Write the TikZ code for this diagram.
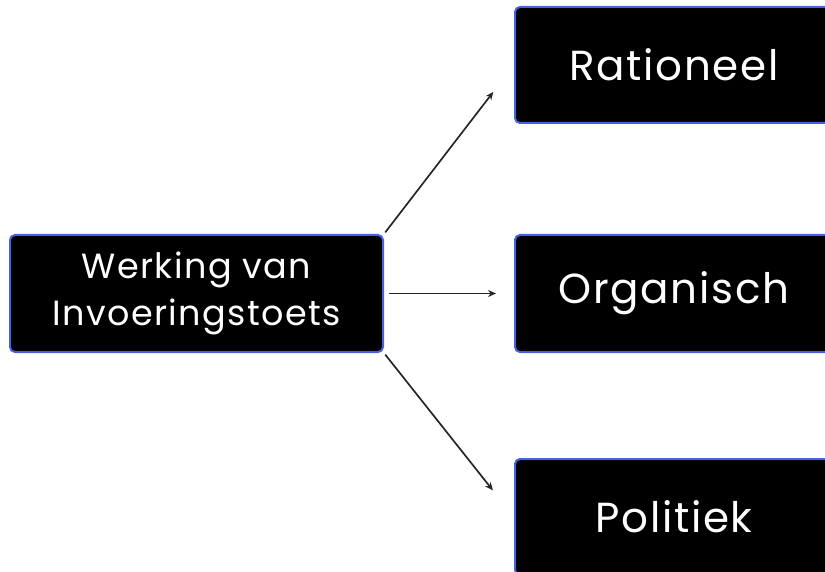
\documentclass[tikz,border=0pt]{standalone}
\usepackage{fontspec}
\setmainfont{Poppins}[LetterSpace=4]
\usetikzlibrary{calc,arrows.meta}
\definecolor{boxBlue}{RGB}{72,98,222}

\begin{document}
\begin{tikzpicture}[x=1pt,y=-1pt,
  blackbox/.style={rounded corners=5pt,draw=boxBlue,fill=black,line width=2pt,text=white,align=center,inner sep=0pt},
  link/.style={draw=black!85,line width=1.7pt,-{Stealth[length=8pt,width=7pt]}}]
\useasboundingbox (0,0) rectangle (825,572);
\node[blackbox,minimum width=373pt,minimum height=117pt,font=\fontsize{35}{47}\selectfont] (werking) at (196.5,293.5) {Werking van\\Invoeringstoets};
\node[blackbox,minimum width=318pt,minimum height=116pt,font=\fontsize{42}{48}\selectfont] (ratio) at (674,65) {Rationeel};
\node[blackbox,minimum width=318pt,minimum height=117pt,font=\fontsize{42}{48}\selectfont] (organ) at (674,293.5) {Organisch};
\node[blackbox,minimum width=318pt,minimum height=116pt,font=\fontsize{42}{48}\selectfont] (polit) at (674,517) {Politiek};
% verbindingen
\draw[link,shorten <=2pt,shorten >=34pt] (werking.north east) -- (ratio.west);
\draw[link,shorten <=5pt,shorten >=18pt] (werking.east) -- (organ.west);
\draw[link,shorten <=2pt,shorten >=34pt] (werking.south east) -- (polit.west);
\end{tikzpicture}
\end{document}
